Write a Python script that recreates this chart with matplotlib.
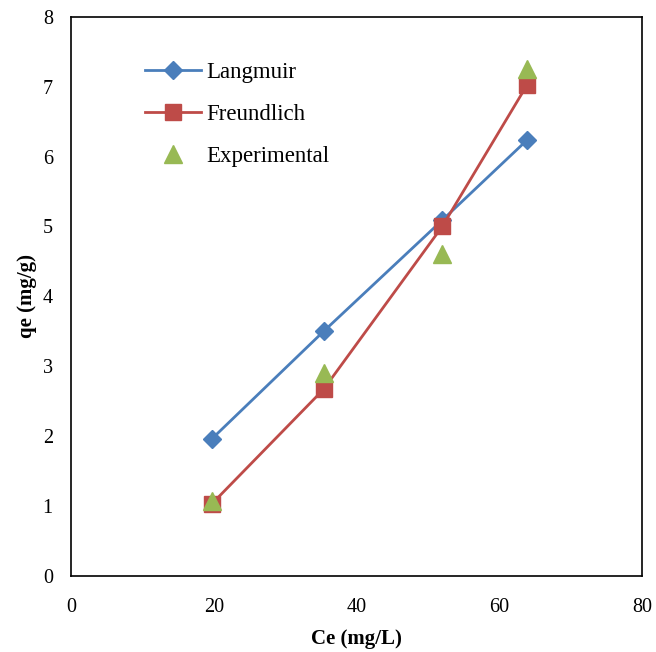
import matplotlib.pyplot as plt

# isotherm fits vs experimental data
ce = [19.75, 35.4, 52.0, 63.9]
langmuir = [1.96, 3.50, 5.09, 6.24]
freundlich = [1.03, 2.67, 5.00, 7.03]
experimental = [1.07, 2.90, 4.60, 7.25]

plt.rcParams['font.family'] = ['Liberation Serif', 'DejaVu Serif']

fig = plt.figure(figsize=(6.56, 6.52), dpi=100)
ax = fig.add_axes([0.108, 0.117, 0.871, 0.857])

ax.plot(ce, langmuir, color='#4a7ebb', lw=2, marker='D', ms=9, label='Langmuir')
ax.plot(ce, freundlich, color='#be4b48', lw=2, marker='s', ms=11, label='Freundlich')
ax.plot(ce, experimental, ls='none', color='#98b954', marker='^', ms=13, label='Experimental')

ax.set_xlim(0, 80)
ax.set_ylim(0, 8)
ax.set_xticks([0, 20, 40, 60, 80])
ax.set_yticks(range(0, 9))
ax.tick_params(axis='x', length=0, labelsize=14.5, pad=16)
ax.tick_params(axis='y', length=0, labelsize=14.5, pad=13)
for s in ax.spines.values():
    s.set_linewidth(1.2)

ax.set_xlabel('Ce (mg/L)', fontsize=15, fontweight='bold', labelpad=9)
ax.set_ylabel('qe (mg/g)', fontsize=15, fontweight='bold', labelpad=4)

ax.legend(loc='upper left', bbox_to_anchor=(0.093, 0.956), frameon=False, fontsize=16.5,
          handlelength=2.45, handletextpad=0.26, labelspacing=0.9)

fig.savefig('out.png', dpi=100)
